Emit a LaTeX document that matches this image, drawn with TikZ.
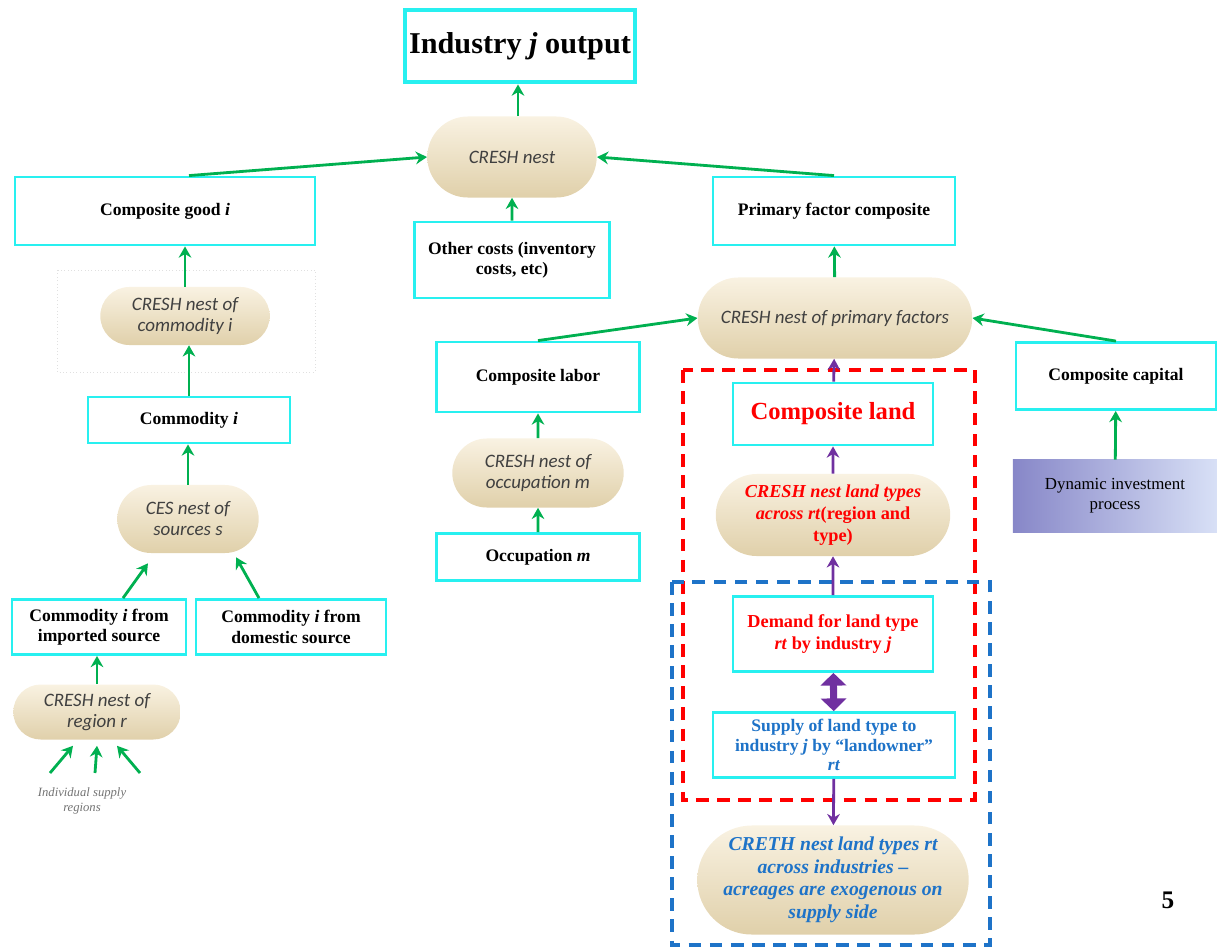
\documentclass[tikz,border=0pt]{standalone}
\usepackage{fontspec}
\setmainfont{Liberation Serif}
\newfontfamily\calfont{Carlito}
\usetikzlibrary{arrows.meta, shapes.misc, positioning, calc}
\definecolor{boxcyan}{RGB}{40,240,240}
\definecolor{arrgreen}{RGB}{0,176,80}
\definecolor{landpurple}{RGB}{112,48,160}
\definecolor{landred}{RGB}{255,0,0}
\definecolor{landblue}{RGB}{30,115,200}
\definecolor{nesttop}{RGB}{249,242,226}
\definecolor{nestbot}{RGB}{224,208,170}
\definecolor{investdark}{RGB}{135,135,200}
\definecolor{investlight}{RGB}{216,224,246}
\tikzset{
  cbox/.style={draw=boxcyan, line width=2pt, fill=white, align=center, inner sep=2pt, font=\bfseries\fontsize{12.5}{14.5}\selectfont},
  nest/.style={rounded rectangle, top color=nesttop, bottom color=nestbot, align=center, inner sep=2pt, text=black!75, font=\calfont\itshape\fontsize{13.5}{15}\selectfont},
  landtext/.style={font=\bfseries\fontsize{13}{15.5}\selectfont},
  garr/.style={draw=arrgreen, line width=2pt, -{Stealth[length=8pt,width=9pt]}},
  parr/.style={draw=landpurple, line width=2pt, -{Stealth[length=8pt,width=9pt]}},
  dblarr/.style={draw=landpurple, line width=5pt, {Triangle[length=9pt,width=18pt]}-{Triangle[length=9pt,width=18pt]}},
  frame/.style={line width=3pt, dash pattern=on 9pt off 6pt}
}
\begin{document}
\begin{tikzpicture}[x=0.025cm, y=-0.025cm]
\useasboundingbox (0,0) rectangle (1217,947);
\draw[frame, landred] (683,370) rectangle (975,800);
\draw[frame, landblue] (672,582) rectangle (990,945);
\draw[black!12, dotted] (57,270) rectangle (315,372);
\node[cbox, line width=3.5pt, minimum width=5.75cm, minimum height=1.8cm, inner sep=0pt, font=\bfseries\fontsize{21.5}{24}\selectfont] (indout) at (520,46) {Industry \textit{j} output};
\node[nest, minimum width=4.375cm, minimum height=2.025cm] (cresh) at (512,157) {CRESH nest};
\node[cbox, minimum width=7.5cm, minimum height=1.7cm] (cgood) at (165,211) {Composite good \textit{i}};
\node[cbox, minimum width=4.875cm, minimum height=1.9cm] (othcost) at (512,260) {Other costs (inventory\\costs, etc)};
\node[cbox, minimum width=6.05cm, minimum height=1.7cm] (pfac) at (834,211) {Primary factor composite};
\node[nest, minimum width=4.375cm, minimum height=1.45cm] (comnest) at (185,316) {CRESH nest of\\commodity i};
\node[cbox, minimum width=5.05cm, minimum height=1.15cm] (comm) at (189,420) {Commodity \textit{i}};
\node[nest, minimum width=3.675cm, minimum height=1.7cm] (ces) at (188,519) {CES nest of\\sources s};
\node[cbox, minimum width=4.35cm, minimum height=1.375cm] (imp) at (99,627) {Commodity \textit{i} from\\imported source};
\node[cbox, minimum width=4.75cm, minimum height=1.375cm] (dom) at (291,627) {Commodity \textit{i} from\\domestic source};
\node[nest, minimum width=4.325cm, minimum height=1.375cm] (regnest) at (97,712) {CRESH nest of\\region r};
\coordinate (rsrca) at (50,773);
\coordinate (rsrcb) at (95,773);
\coordinate (rsrcc) at (140,773);
\node[align=center, text=black!55, font=\itshape\fontsize{9}{11}\selectfont] (rsrc) at (82,801) {Individual supply\\regions};
\node[nest, minimum width=7cm, minimum height=2.025cm] (primf) at (835,318) {CRESH nest of primary factors};
\node[cbox, minimum width=5.075cm, minimum height=1.75cm] (labor) at (538,377) {Composite labor};
\node[cbox, minimum width=5cm, minimum height=1.675cm] (capital) at (1116,376) {Composite capital};
\node[nest, minimum width=4.425cm, minimum height=1.725cm] (occnest) at (538,473) {CRESH nest of\\occupation m};
\node[cbox, minimum width=5.075cm, minimum height=1.175cm] (occ) at (538,557) {Occupation \textit{m}};
\node[left color=investdark, right color=investlight, minimum width=5.1cm, minimum height=1.8cm, align=center, font=\fontsize{12}{14.5}\selectfont] (invest) at (1115,496) {Dynamic investment\\process};
\node[cbox, text=landred, minimum width=5cm, minimum height=1.55cm, font=\bfseries\fontsize{17.5}{20}\selectfont] (land) at (833,414) {Composite land};
\node[nest, text=landred, minimum width=6cm, minimum height=2.05cm, landtext] (landnest) at (833,515) {\textit{CRESH nest land types}\\\textit{across rt}(region and\\type)};
\node[cbox, text=landred, minimum width=5cm, minimum height=1.875cm, landtext] (demand) at (833,634) {Demand for land type\\\textit{rt} by industry \textit{j}};
\node[cbox, text=landblue, minimum width=6.05cm, minimum height=1.625cm, font=\bfseries\fontsize{12.5}{13.8}\selectfont] (supply) at (834,745) {Supply of land type to\\industry \textit{j} by ``landowner''\\\textit{rt}};
\node[nest, text=landblue, minimum width=6.925cm, minimum height=2.725cm, font=\bfseries\itshape\fontsize{14}{16}\selectfont] (creth) at (833,880) {CRETH nest land types rt\\across industries --\\acreages are exogenous on\\supply side};
\node[font=\bfseries\fontsize{18}{20}\selectfont] (pgnum) at (1168,900) {5};
\draw[garr] ([xshift=0.15cm]cresh.north) -- ([xshift=0.15cm]cresh.north |- indout.south);
\draw[garr] ([xshift=0.6cm]cgood.north) -- (cresh.west);
\draw[garr] (pfac.north) -- (cresh.east);
\draw[garr] (othcost) -- (cresh);
\draw[garr] (comnest.north) -- (comnest.north |- cgood.south);
\draw[garr] (comm.north) -- (comm.north |- comnest.south);
\draw[garr] (ces.north) -- (ces.north |- comm.south);
\draw[garr] ([xshift=0.6cm]imp.north) -- ([xshift=-1.0cm, yshift=-0.25cm]ces.south);
\draw[garr] ([xshift=-0.8cm]dom.north) -- ([xshift=1.2cm, yshift=-0.1cm]ces.south);
\draw[garr] (regnest.north) -- (regnest.north |- imp.south);
\draw[garr] (rsrca) -- ([xshift=-0.6cm, yshift=-0.15cm]regnest.south);
\draw[garr] (rsrcb) -- ([yshift=-0.15cm]regnest.south);
\draw[garr] (rsrcc) -- ([xshift=0.5cm, yshift=-0.15cm]regnest.south);
\draw[garr] (primf) -- (pfac);
\draw[garr] (labor.north) -- (primf.west);
\draw[garr] (capital.north) -- (primf.east);
\draw[garr] (occnest) -- (labor);
\draw[garr] (occ) -- (occnest);
\draw[garr] (invest) -- (capital);
\draw[parr] (land) -- (primf);
\draw[parr] (landnest) -- (land);
\draw[parr] (demand) -- (landnest);
\draw[dblarr] (demand) -- (supply);
\draw[parr] (supply) -- (creth);
\end{tikzpicture}
\end{document}
